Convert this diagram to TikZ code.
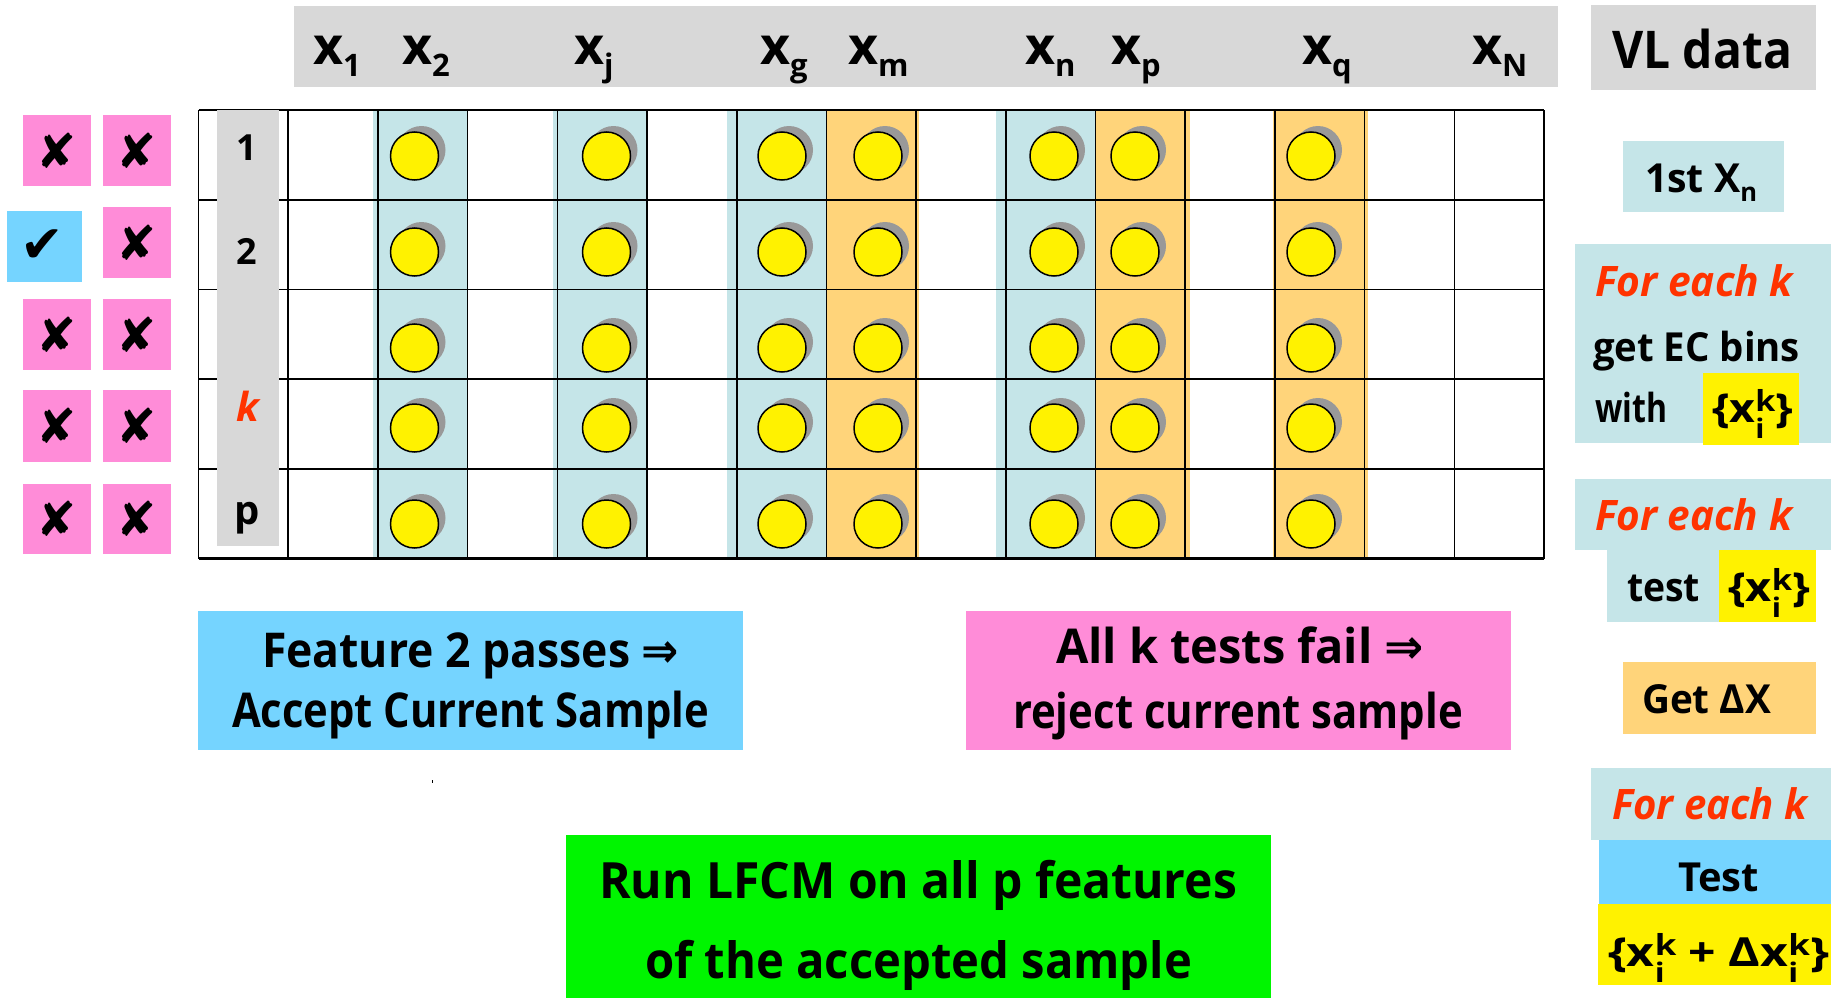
\documentclass[tikz,border=0pt]{standalone}
\usepackage{fontspec}
\usepackage{graphicx}
\setmainfont{Open Sans}
\newfontfamily\symfont{DejaVu Sans}
\usetikzlibrary{shadows}
\definecolor{hdrgray}{HTML}{D8D8D8}
\definecolor{pinkc}{HTML}{FF8CD8}
\definecolor{skyc}{HTML}{75D4FF}
\definecolor{paleblue}{HTML}{C5E5E8}
\definecolor{paleorange}{HTML}{FFD47A}
\definecolor{greenc}{HTML}{00F500}
\definecolor{redc}{HTML}{FF3300}
\definecolor{shadowc}{HTML}{999999}
\newcommand\fsz[1]{\fontsize{#1}{#1}\selectfont}
\newcommand\fw[2]{\resizebox{#1pt}{\height}{#2}}
\newcommand\xsub[1]{\raisebox{-12pt}{\fsz{31}#1}}
\newcommand\xik{x\makebox[0pt][l]{\raisebox{-16pt}{\fsz{27}i}}\raisebox{11pt}{\fsz{29}k}}
\newcommand\pbox[6]{\node[panel,fill=#2,minimum width={(#5)-(#3)},minimum height={(#6)-(#4)}] (#1) at ({((#3)+(#5))/2},{((#4)+(#6))/2}) {};}
\tikzset{
 panel/.style={inner sep=0pt,outer sep=0pt,draw=none,rectangle},
 txt/.style={inner sep=0pt,outer sep=0pt,anchor=base west},
 hlab/.style={txt,font=\fsz{52}\bfseries},
 gridln/.style={line width=1.6pt,black},
 dot/.style={circle,inner sep=0pt,minimum size=48pt,fill=yellow,draw=black,line width=1.5pt,
   drop shadow={shadow xshift=7pt,shadow yshift=6pt,fill=shadowc,opacity=1}},
 marksym/.style={inner sep=0pt,font=\symfont\fsz{48}},
}
\begin{document}
\begin{tikzpicture}[x=1pt,y=-1pt]
\useasboundingbox[fill=white] (0,0) rectangle (1831,998);

% header band and labels
\pbox{hdr}{hdrgray}{294}{6}{1558}{87}
\node[hlab] (h1) at (313,65) {x\xsub{1}};
\node[hlab] (h2) at (402,65) {x\xsub{2}};
\node[hlab] (hj) at (574,65) {x\xsub{j}};
\node[hlab] (hg) at (760,65) {x\xsub{g}};
\node[hlab] (hm) at (848,65) {x\xsub{m}};
\node[hlab] (hn) at (1025,65) {x\xsub{n}};
\node[hlab] (hp) at (1111,65) {x\xsub{p}};
\node[hlab] (hq) at (1302,65) {x\xsub{q}};
\node[hlab] (hN) at (1472,65) {x\xsub{N}};

% column fills
\fill[paleblue] (373,110) rectangle (467.6,558.5);
\fill[paleblue] (553,110) rectangle (647,558.5);
\fill[paleblue] (727,110) rectangle (826.4,558.5);
\fill[paleblue] (996,110) rectangle (1095.5,558.5);
\fill[paleorange] (826.4,110) rectangle (919,558.5);
\fill[paleorange] (1095.5,110) rectangle (1190,558.5);
\fill[paleorange] (1273,110) rectangle (1367.5,558.5);

% grid
\foreach \i in {0,...,15} \draw[gridln] ({198.5+\i*89.7},110) -- ({198.5+\i*89.7},558.5);
\foreach \j in {0,...,5} \draw[gridln] (198.5,{110+\j*89.7}) -- (1544,{110+\j*89.7});
\draw[line width=2.2pt] (198.5,558.5) -- (1544,558.5);

% row label band
\pbox{lblband}{hdrgray}{217}{110}{279}{546}
\node[txt,anchor=base] (r1) at (247,160) {\fsz{36}\bfseries 1};
\node[txt,anchor=base] (r2) at (247,264) {\fsz{36}\bfseries 2};
\node[txt,anchor=base,text=redc] (rk) at (248,421) {\fsz{40}\bfseries\itshape k};
\node[txt,anchor=base] (rp) at (247,524) {\fsz{40}\bfseries p};

% dots
\foreach \r/\y in {1/156,2/252,3/348,4/428,5/524}
  \foreach \c/\x in {2/414.5,4/606.5,6/782,7/878,9/1054,10/1135,12/1311}
    \node[dot] (d\r-\c) at (\x,\y) {};

% left pass/fail boxes
\pbox{a1}{pinkc}{23}{115}{91}{186}
\pbox{b1}{pinkc}{103}{115}{171}{186}
\pbox{a2}{skyc}{7}{211}{82}{282}
\pbox{b2}{pinkc}{103}{207}{171}{278}
\pbox{a3}{pinkc}{23}{299}{91}{370}
\pbox{b3}{pinkc}{103}{299}{171}{370}
\pbox{a4}{pinkc}{23}{390}{91}{462}
\pbox{b4}{pinkc}{103}{390}{171}{462}
\pbox{a5}{pinkc}{23}{484}{91}{554}
\pbox{b5}{pinkc}{103}{484}{171}{554}
\foreach \n in {a1,b1,b2,a3,b3,a4,b4,a5,b5}
  \node[marksym] (m\n) at (\n.center) {✘};
\node[marksym,font=\symfont\fsz{52}] (ma2) at ([xshift=-2pt]a2.center) {✔};

% right panel
\pbox{vlbox}{hdrgray}{1591}{5}{1816}{90}
\node[txt] (tvl) at (1612,69) {\fw{180}{\fsz{52}\bfseries VL data}};

\pbox{firstbox}{paleblue}{1623}{141}{1784}{212}
\node[txt] (tfirst) at (1645,192) {\fw{112}{\fsz{40}\bfseries 1st X\raisebox{-9pt}{\fsz{26}n}}};

\pbox{ecbox}{paleblue}{1575}{244}{1831}{443}
\pbox{ecy}{yellow}{1703}{373}{1799}{445}
\node[txt,text=redc] (tfk1) at (1595,296) {\fw{198}{\fsz{42}\bfseries\itshape For each k}};
\node[txt] (tec) at (1593,361) {\fw{207}{\fsz{40}\bfseries get EC bins}};
\node[txt] (twith) at (1595,422) {\fw{72}{\fsz{40}\bfseries with}};
\node[txt] (tx1) at (1712,422) {\fw{81}{\fsz{40}\bfseries\{\xik\}}};

\pbox{fk2box}{paleblue}{1575}{479}{1831}{550}
\pbox{testbox}{paleblue}{1607}{550}{1719}{622}
\pbox{testy}{yellow}{1719}{550}{1816}{622}
\node[txt,text=redc] (tfk2) at (1595,530) {\fw{197}{\fsz{42}\bfseries\itshape For each k}};
\node[txt] (ttest) at (1627,601) {\fw{73}{\fsz{40}\bfseries test}};
\node[txt] (tx2) at (1728,601) {\fw{82}{\fsz{40}\bfseries\{\xik\}}};

\pbox{dxbox}{paleorange}{1623}{662}{1816}{734}
\node[txt] (tdx) at (1642,713) {\fw{129}{\fsz{40}\bfseries Get ΔX}};

\pbox{fk3box}{paleblue}{1591}{768}{1831}{840}
\node[txt,text=redc] (tfk3) at (1612,819) {\fw{195}{\fsz{42}\bfseries\itshape For each k}};
\pbox{testb}{skyc}{1599}{840}{1831}{904}
\node[txt] (tTest) at (1678,891) {\fw{81}{\fsz{40}\bfseries Test}};
\pbox{lasty}{yellow}{1598}{904}{1831}{985}
\node[txt] (tx3) at (1608,966) {\fw{221}{\fsz{40}\bfseries\{\xik{} + Δ\xik\}}};

% bottom boxes
\pbox{accept}{skyc}{198}{611}{743}{750}
\node[txt] (tacc1) at (262,667) {\fw{417}{\fsz{48}\bfseries Feature 2 passes {\symfont ⇒}}};
\node[txt] (tacc2) at (232,727) {\fw{477}{\fsz{48}\bfseries Accept Current Sample}};

\pbox{reject}{pinkc}{966}{611}{1511}{750}
\node[txt] (trej1) at (1056,663) {\fw{368}{\fsz{48}\bfseries All k tests fail {\symfont ⇒}}};
\node[txt] (trej2) at (1013,728) {\fw{450}{\fsz{48}\bfseries reject current sample}};

\pbox{lfcm}{greenc}{566}{835}{1271}{998}
\node[txt] (tl1) at (599,898) {\fw{638}{\fsz{50}\bfseries Run LFCM on all p features}};
\node[txt] (tl2) at (645,978) {\fw{547}{\fsz{50}\bfseries of the accepted sample}};

\fill[black] (431.5,779.5) rectangle (432.5,782.5);
\end{tikzpicture}
\end{document}
